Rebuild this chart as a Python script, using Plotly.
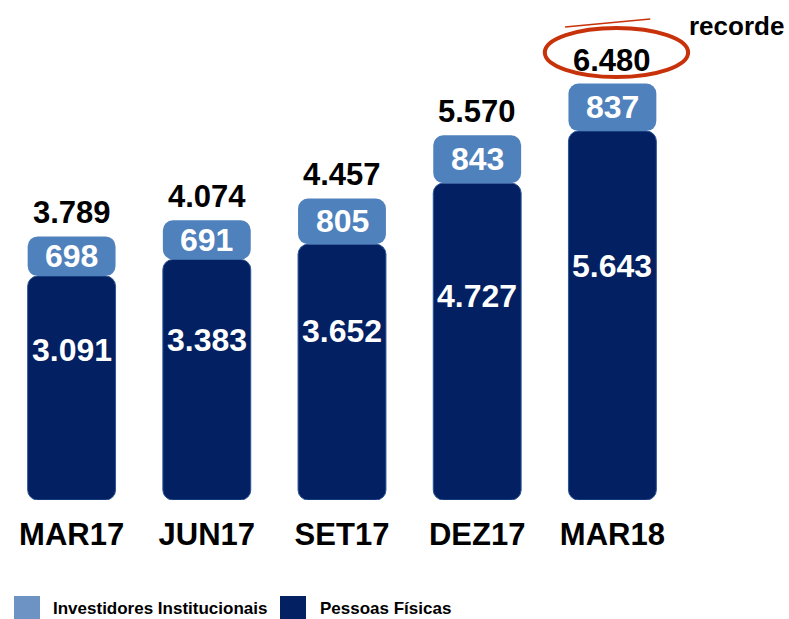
import plotly.graph_objects as go

# dados (base de investidores)
periodos = ["MAR17", "JUN17", "SET17", "DEZ17", "MAR18"]
pessoas_fisicas = [3091, 3383, 3652, 4727, 5643]
investidores_inst = [698, 691, 805, 843, 837]
totais = [3789, 4074, 4457, 5570, 6480]
nomes_series = ["Investidores Institucionais", "Pessoas Físicas"]

AZUL_CLARO = "#4F81BD"
AZUL_ESCURO = "#022062"
LEG_CLARO = "#6C93C4"
FONTE = "Arial, Liberation Sans, sans-serif"
PISO = -850     # eixo comeca abaixo de zero como no slide original
TOPO = 7950
LARG = 0.65


def fmt(v):
    return f"{v:,}".replace(",", ".")


fig = go.Figure()
# barra escura: pessoas fisicas (com base definida o plotly arredonda as duas pontas)
fig.add_trace(go.Bar(x=periodos, base=[PISO] * len(periodos),
                     y=[v - PISO for v in pessoas_fisicas], width=LARG,
                     marker=dict(color=AZUL_ESCURO, line=dict(width=1, color="#2D5596")),
                     hoverinfo="skip", name=nomes_series[1]))
# barra clara: institucionais
fig.add_trace(go.Bar(x=periodos, base=pessoas_fisicas, y=investidores_inst, width=LARG,
                     marker=dict(color=AZUL_CLARO, line=dict(width=0)),
                     hoverinfo="skip", name=nomes_series[0]))

anots = []
for p, pf, ii, tot in zip(periodos, pessoas_fisicas, investidores_inst, totais):
    anots.append(dict(x=p, y=pf * 0.58, text=fmt(pf), showarrow=False,
                      font=dict(family=FONTE, size=32, color="white", weight="bold")))
    anots.append(dict(x=p, y=pf + ii / 2, text=fmt(ii), showarrow=False,
                      font=dict(family=FONTE, size=32, color="white", weight="bold")))
    anots.append(dict(x=p, y=tot, text=fmt(tot), showarrow=False, yanchor="bottom", yshift=4,
                      font=dict(family=FONTE, size=31, color="black", weight="bold")))

# "recorde" e legenda em coordenadas do papel
anots.append(dict(xref="paper", yref="paper", x=1.010, y=0.948, xanchor="left", yanchor="middle",
                  text="recorde", showarrow=False,
                  font=dict(family=FONTE, size=26, color="black", weight="bold")))
anots.append(dict(xref="paper", yref="paper", x=0.069, y=-0.216, xanchor="left", yanchor="middle",
                  text=nomes_series[0], showarrow=False,
                  font=dict(family=FONTE, size=17, color="black", weight="bold")))
anots.append(dict(xref="paper", yref="paper", x=0.465, y=-0.216, xanchor="left", yanchor="middle",
                  text=nomes_series[1], showarrow=False,
                  font=dict(family=FONTE, size=17, color="black", weight="bold")))

shapes = [
    # elipse vermelha em volta do recorde
    dict(type="circle", xref="paper", yref="paper", x0=0.800, x1=1.012, y0=0.846, y1=0.944,
         line=dict(color="#C8320A", width=4)),
    dict(type="line", xref="paper", yref="paper", x0=0.830, x1=0.956, y0=0.946, y1=0.962,
         line=dict(color="#C8320A", width=1.5)),
    # quadrados da legenda
    dict(type="rect", xref="paper", yref="paper", xsizemode="pixel", ysizemode="pixel",
         xanchor=0, yanchor=0, x0=10, x1=36, y0=-96, y1=-122,
         fillcolor=LEG_CLARO, line=dict(width=0)),
    dict(type="rect", xref="paper", yref="paper", xsizemode="pixel", ysizemode="pixel",
         xanchor=0, yanchor=0, x0=276, x1=302, y0=-96, y1=-122,
         fillcolor=AZUL_ESCURO, line=dict(width=0)),
]

fig.update_layout(
    width=789, height=619,
    margin=dict(l=4, r=109, t=0, b=119),
    barmode="overlay",
    barcornerradius=10,
    plot_bgcolor="white",
    paper_bgcolor="white",
    showlegend=False,
    annotations=anots,
    shapes=shapes,
    xaxis=dict(range=[-0.5, 4.5], showgrid=False, zeroline=False, showline=False, ticks="",
               ticklabelstandoff=13,
               tickfont=dict(family=FONTE, size=31, color="black", weight="bold")),
    yaxis=dict(range=[PISO, TOPO], visible=False, showgrid=False, zeroline=False),
)

fig.write_html("out.html", config={"displayModeBar": False},
               post_script="document.body.style.margin='0';")
